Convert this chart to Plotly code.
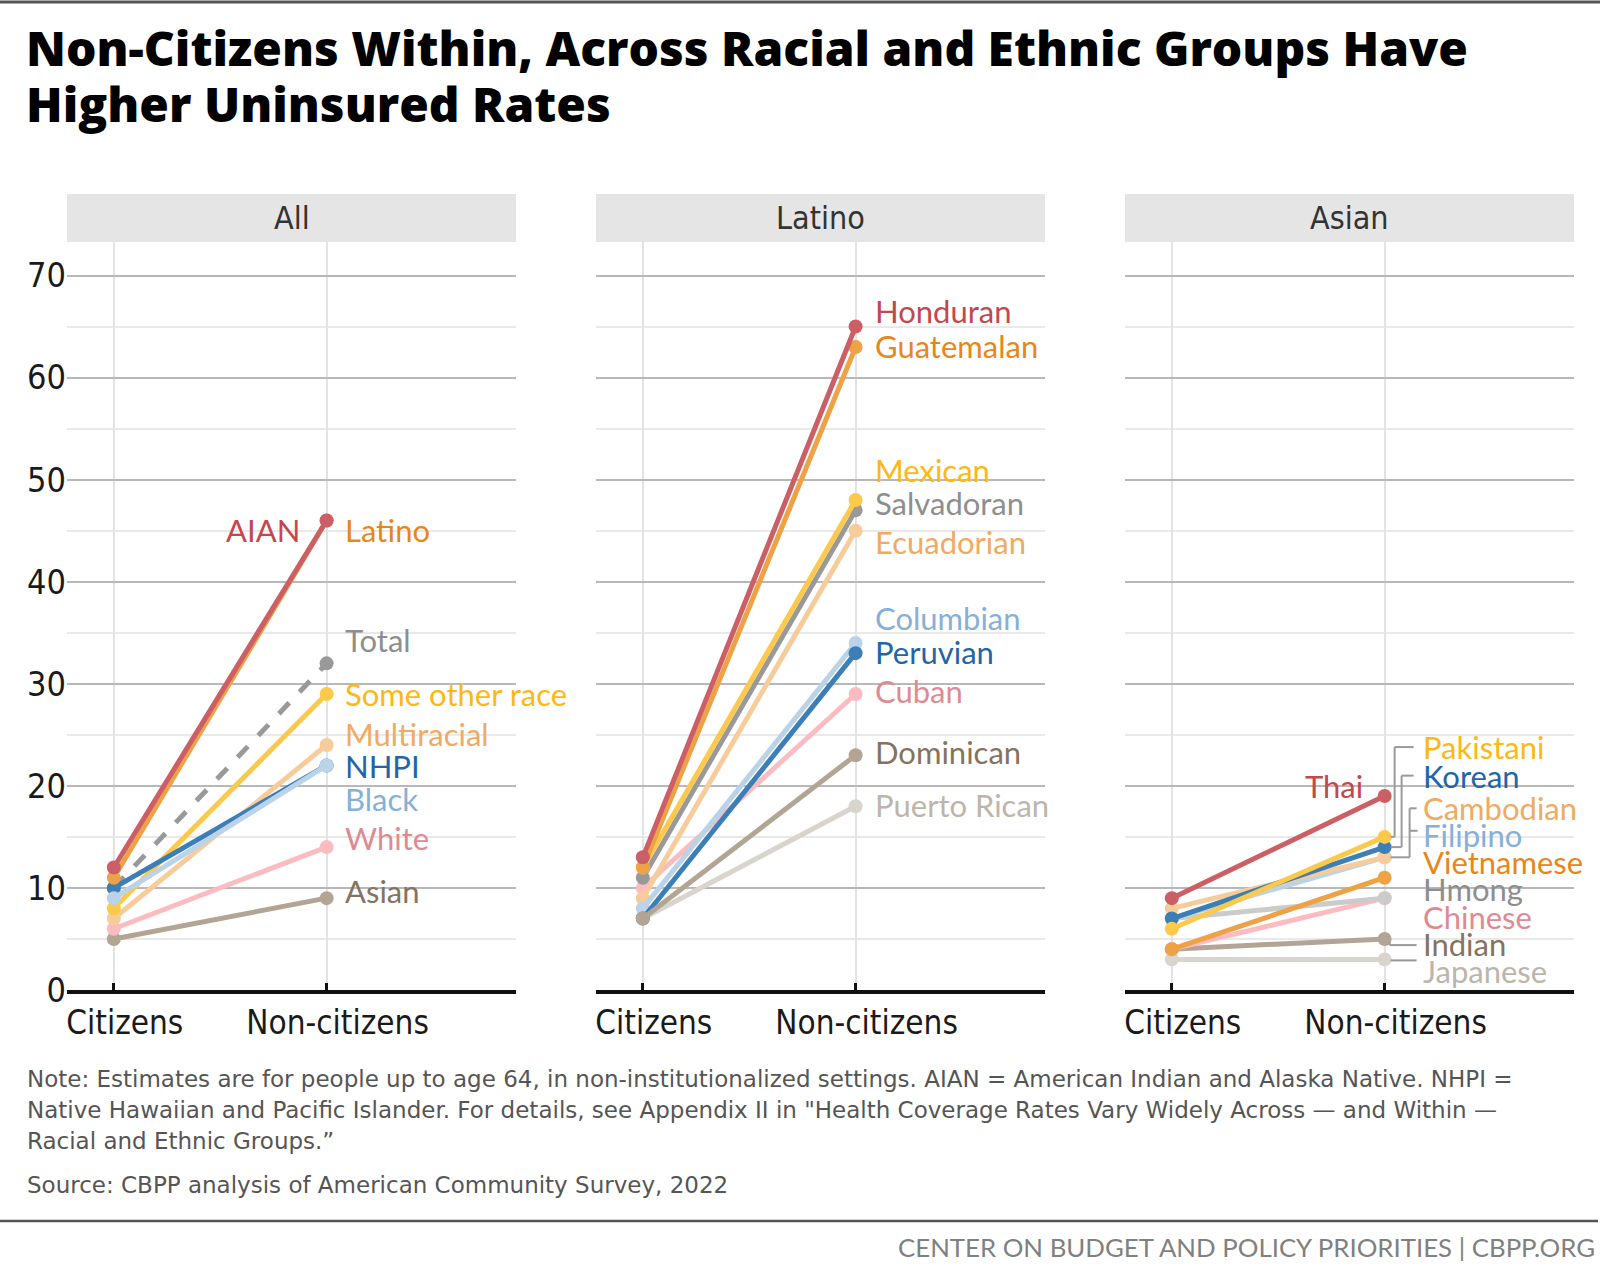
import plotly.graph_objects as go

# ---------------- data ----------------
x_cats = ["Citizens", "Non-citizens"]
y_ticks = [0, 10, 20, 30, 40, 50, 60, 70]
panel_titles = ["All", "Latino", "Asian"]

all_groups = ["Asian", "White", "Multiracial", "Some other race", "Total", "NHPI", "Black", "Latino", "AIAN"]
all_citizens = [5, 6, 7, 8, 10, 10, 9, 11, 12]
all_noncitizens = [9, 14, 24, 29, 32, 22, 22, 46, 46]

latino_groups = ["Puerto Rican", "Cuban", "Ecuadorian", "Columbian", "Peruvian", "Dominican",
                 "Salvadoran", "Mexican", "Guatemalan", "Honduran"]
latino_citizens = [7, 10, 9, 8, 7, 7, 11, 12, 12, 13]
latino_noncitizens = [18, 29, 45, 34, 33, 23, 47, 48, 63, 65]

asian_groups = ["Japanese", "Indian", "Chinese", "Hmong", "Vietnamese", "Filipino",
                "Cambodian", "Korean", "Pakistani", "Thai"]
asian_citizens = [3, 4, 4, 7, 4, 7, 8, 7, 6, 9]
asian_noncitizens = [3, 5, 9, 9, 11, 13, 13, 14, 15, 19]

title_lines = ["Non-Citizens Within, Across Racial and Ethnic Groups Have", "Higher Uninsured Rates"]
note_lines = [
    "Note: Estimates are for people up to age 64, in non-institutionalized settings. AIAN = American Indian and Alaska Native. NHPI =",
    "Native Hawaiian and Pacific Islander. For details, see Appendix II in \"Health Coverage Rates Vary Widely Across \u2014 and Within \u2014",
    "Racial and Ethnic Groups.\u201d",
]
source_text = "Source: CBPP analysis of American Community Survey, 2022"
footer_text = "CENTER ON BUDGET AND POLICY PRIORITIES | CBPP.ORG"

# ---------------- styles ----------------
RED = ("#cc5e66", "#c4474f")
ORANGE = ("#eea246", "#e8861a")
GRAY = ("#999999", "#8e8e8e")
LGRAY2 = ("#cbcbcb", "#8e8e8e")
YELLOW = ("#fdc94a", "#fdb813")
LORANGE = ("#f6cc9a", "#efaa63")
BLUE = ("#3b7fb6", "#1f65a8")
LBLUE = ("#bad3e8", "#86b0d8")
PINK = ("#fbbcc1", "#df8a92")
TAN = ("#b3a594", "#85735f")
PALE = ("#d9d4cd", "#bdb5aa")

style = {
    "AIAN": RED, "Latino": ORANGE, "Total": GRAY, "Some other race": YELLOW, "Multiracial": LORANGE,
    "NHPI": BLUE, "Black": LBLUE, "White": PINK, "Asian": TAN,
    "Honduran": RED, "Guatemalan": ORANGE, "Mexican": YELLOW, "Salvadoran": GRAY, "Ecuadorian": LORANGE,
    "Columbian": LBLUE, "Peruvian": BLUE, "Cuban": PINK, "Dominican": TAN, "Puerto Rican": PALE,
    "Thai": RED, "Pakistani": YELLOW, "Korean": BLUE, "Cambodian": LORANGE, "Filipino": LBLUE,
    "Vietnamese": ORANGE, "Hmong": LGRAY2, "Chinese": PINK, "Indian": TAN, "Japanese": PALE,
}

# label placement (layout): y position in axis units, side
label_pos = [
    {"AIAN": (45.1, "L"), "Latino": (45.1, "R"), "Total": (34.3, "R"), "Some other race": (29.0, "R"),
     "Multiracial": (25.1, "R"), "NHPI": (21.9, "R"), "Black": (18.7, "R"), "White": (14.9, "R"),
     "Asian": (9.7, "R")},
    {"Honduran": (66.5, "R"), "Guatemalan": (63.1, "R"), "Mexican": (50.9, "R"), "Salvadoran": (47.7, "R"),
     "Ecuadorian": (43.9, "R"), "Columbian": (36.4, "R"), "Peruvian": (33.1, "R"), "Cuban": (29.3, "R"),
     "Dominican": (23.3, "R"), "Puerto Rican": (18.1, "R")},
    {"Thai": (20.0, "L"), "Pakistani": (23.8, "R"), "Korean": (21.0, "R"), "Cambodian": (17.8, "R"),
     "Filipino": (15.2, "R"), "Vietnamese": (12.5, "R"), "Hmong": (9.9, "R"), "Chinese": (7.2, "R"),
     "Indian": (4.5, "R"), "Japanese": (1.9, "R")},
]
label_shift_r = [18, 19, 38]
label_shift_l = [-27, 0, -22]
LABEL_SIZE = 31

# approximate Lato advance widths (em) to size the white label backgrounds
_lw = {'a': .49, 'b': .56, 'c': .46, 'd': .56, 'e': .51, 'f': .31, 'g': .5, 'h': .56, 'i': .23, 'j': .23,
       'k': .49, 'l': .23, 'm': .84, 'n': .56, 'o': .56, 'p': .56, 'q': .56, 'r': .37, 's': .4, 't': .35,
       'u': .56, 'v': .48, 'w': .74, 'x': .47, 'y': .48, 'z': .44, ' ': .19,
       'A': .65, 'B': .62, 'C': .64, 'D': .72, 'E': .53, 'F': .51, 'G': .69, 'H': .73, 'I': .27, 'J': .38,
       'K': .63, 'L': .48, 'M': .89, 'N': .73, 'O': .77, 'P': .57, 'Q': .77, 'R': .6, 'S': .5, 'T': .56,
       'U': .7, 'V': .65, 'W': .98, 'X': .62, 'Y': .6, 'Z': .58}
def text_w(t, size):
    return sum(_lw.get(ch, .55) for ch in t) * size

W, H = 1600, 1267
def fx(p): return p / W
def fy(p): return 1 - p / H

Y_BOT, Y_TOP = 990, 242
PX_PER_UNIT = (990 - 275.5) / 70
YMAX = (Y_BOT - Y_TOP) / PX_PER_UNIT
XRANGE = [-0.22, 1.89]
domains = [(67, 516), (596, 1045), (1125, 1574)]

LABEL_FONT = "Lato, 'Open Sans', sans-serif"
AXIS_FONT = "'DejaVu Sans Condensed', 'Roboto', sans-serif"

panels = [
    (all_groups, all_citizens, all_noncitizens),
    (latino_groups, latino_citizens, latino_noncitizens),
    (asian_groups, asian_citizens, asian_noncitizens),
]

fig = go.Figure()
annotations = []
shapes = []

for i, (groups, cit, non) in enumerate(panels):
    s = "" if i == 0 else str(i + 1)
    for g, c, n in zip(groups, cit, non):
        lc, tc = style[g]
        fig.add_trace(go.Scatter(
            x=x_cats, y=[c, n], mode="lines+markers",
            line=dict(color=lc, width=5, dash="dash" if g == "Total" else "solid"),
            marker=dict(size=14, color=lc),
            xaxis="x" + s, yaxis="y" + s, showlegend=False, hoverinfo="skip", cliponaxis=False))
    for g, (ly, side) in label_pos[i].items():
        tc = style[g][1]
        shift = label_shift_r[i] if side == "R" else label_shift_l[i]
        tw = text_w(g, LABEL_SIZE)
        if side == "R":
            bx0, bx1 = shift - 8, shift + tw + 8
        else:
            bx0, bx1 = shift - tw - 8, shift + 8
        shapes.append(dict(type="rect", xref="x" + s, yref="y" + s, xsizemode="pixel", xanchor=1,
                           x0=bx0, x1=bx1, y0=ly - 1.35, y1=ly + 1.35,
                           fillcolor="white", line=dict(width=0), layer="below"))
        annotations.append(dict(
            x=1, y=ly, xref="x" + s, yref="y" + s, text=g, showarrow=False,
            xanchor="left" if side == "R" else "right", yanchor="middle",
            xshift=shift, font=dict(family=LABEL_FONT, size=LABEL_SIZE, color=tc),
            borderpad=0, borderwidth=0))
    d0, d1 = domains[i]
    fig.layout["xaxis" + s] = dict(
        domain=[fx(d0), fx(d1)], range=XRANGE, type="category", automargin=False,
        showgrid=True, gridcolor="#e3e3e3", gridwidth=1.5,
        showline=True, linecolor="#111111", linewidth=4,
        ticks="inside", ticklen=7, tickwidth=3, tickcolor="#111111",
        ticklabelstandoff=0, ticklabelshift=11,
        tickfont=dict(family=AXIS_FONT, size=33, color="#1a1a1a"),
        anchor="y" + s, fixedrange=True, zeroline=False)
    fig.layout["yaxis" + s] = dict(
        domain=[fy(Y_BOT), fy(Y_TOP)], range=[0, YMAX], automargin=False,
        tickvals=y_ticks, showticklabels=(i == 0),
        showgrid=True, gridcolor="#b8b8b8", gridwidth=1.8,
        minor=dict(dtick=5, tick0=0, showgrid=True, gridcolor="#e9e9e9", gridwidth=1.5),
        tickfont=dict(family=AXIS_FONT, size=34, color="#1a1a1a"),
        zeroline=False, showline=False, anchor="x" + s, fixedrange=True)
    # strip
    shapes.append(dict(type="rect", xref="paper", yref="paper", x0=fx(d0), x1=fx(d1),
                       y0=fy(242), y1=fy(194), fillcolor="#e5e5e5", line=dict(width=0), layer="below"))
    annotations.append(dict(x=fx((d0 + d1) / 2), y=fy(218), xref="paper", yref="paper",
                            text=panel_titles[i], showarrow=False, xanchor="center", yanchor="middle",
                            font=dict(family=AXIS_FONT, size=32, color="#333333")))

# leader lines in the Asian panel
def seg(xp0, xp1, y0, y1):
    shapes.append(dict(type="line", xref="x3", yref="y3", xsizemode="pixel", xanchor=1,
                       x0=xp0, x1=xp1, y0=y0, y1=y1, line=dict(color="#9a9a9a", width=2), layer="above"))

asian_nc = dict(zip(asian_groups, asian_noncitizens))
brackets = [("Pakistani", 10, 29), ("Korean", 17, 29), ("Cambodian", 25, 32)]
for g, vx, hx in brackets:
    ly = label_pos[2][g][0]
    py = asian_nc[g]
    seg(6, vx, py, py)
    seg(vx, vx, py, ly)
    seg(vx, hx, ly, ly)
seg(25, 33, label_pos[2]["Filipino"][0] + 0.4, label_pos[2]["Filipino"][0] + 0.4)
seg(5, 5, asian_nc["Indian"] - 0.3, label_pos[2]["Indian"][0] - 0.1)
seg(5, 32, label_pos[2]["Indian"][0] - 0.1, label_pos[2]["Indian"][0] - 0.1)
seg(6, 32, asian_nc["Japanese"] - 0.1, asian_nc["Japanese"] - 0.1)

# title, notes, rules
TITLE_FONT = "'Open Sans', Lato, sans-serif"
for txt, yy in zip(title_lines, [48, 104]):
    annotations.append(dict(x=fx(24), y=fy(yy), xref="paper", yref="paper", text=txt,
                            showarrow=False, xanchor="left", yanchor="middle",
                            font=dict(family=TITLE_FONT, size=47.9, color="#000000", weight=800)))
NOTE_FONT = "'DejaVu Sans', 'Open Sans', sans-serif"
for line, yy in zip(note_lines, [1078.5, 1110, 1141]):
    annotations.append(dict(x=fx(25), y=fy(yy), xref="paper", yref="paper", text=line,
                            showarrow=False, xanchor="left", yanchor="middle",
                            font=dict(family=NOTE_FONT, size=23, color="#555555")))
annotations.append(dict(x=fx(25), y=fy(1185), xref="paper", yref="paper", text=source_text,
                        showarrow=False, xanchor="left", yanchor="middle",
                        font=dict(family=NOTE_FONT, size=23, color="#555555")))
annotations.append(dict(x=fx(1597), y=fy(1247), xref="paper", yref="paper", text=footer_text,
                        showarrow=False, xanchor="right", yanchor="middle",
                        font=dict(family=LABEL_FONT, size=25.8, color="#808080")))
shapes.append(dict(type="line", xref="paper", yref="paper", x0=0, x1=1, y0=fy(2), y1=fy(2),
                   line=dict(color="#555555", width=3)))
shapes.append(dict(type="line", xref="paper", yref="paper", x0=0, x1=fx(1598), y0=fy(1221), y1=fy(1221),
                   line=dict(color="#555555", width=2.5)))

fig.update_layout(
    width=W, height=H, margin=dict(l=0, r=0, t=0, b=0, pad=0, autoexpand=False),
    paper_bgcolor="white", plot_bgcolor="white",
    annotations=annotations, shapes=shapes, showlegend=False,
)
fig.write_html("out.html", config={"displayModeBar": False})
